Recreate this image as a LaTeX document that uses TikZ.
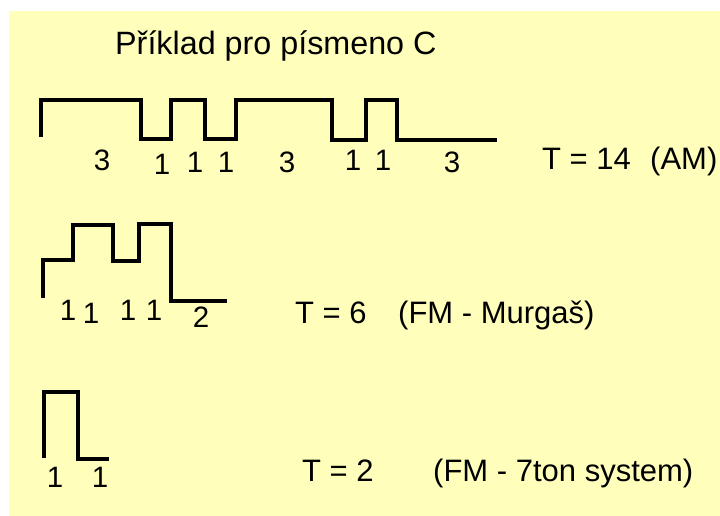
\documentclass[tikz,border=0pt]{standalone}
\usepackage{fontspec}
\setmainfont{Liberation Sans}
\usepackage{xcolor}
\usepackage{tikz}
\usetikzlibrary{positioning,calc}
\definecolor{paleyellow}{RGB}{255,255,187}
\tikzset{
	pulse/.style={draw=black, line width=3.5pt, line join=miter},
	caption/.style={anchor=base west, inner sep=0pt, font=\fontsize{31}{31}\selectfont},
	dur/.style={anchor=base, inner sep=0pt, font=\fontsize{29.5}{29.5}\selectfont}
}

\begin{document}
\begin{tikzpicture}[x=1pt, y=-1pt]
	
	%% -- page and background
	\useasboundingbox (0,0) rectangle (720,516);
	\fill[paleyellow] (9,11) rectangle (720,516);
	
	%% -- title
	\node[caption, font=\fontsize{32.3}{32.3}\selectfont] (title) at (115,55)
	{Příklad pro písmeno C};
	
	%% -- AM signal
	\draw[pulse] (41,137) -- (41,100) -- (141,100) -- (141,139) -- (171,139)
	-- (171,100) -- (205,100) -- (205,139) -- (236,139) -- (236,100)
	-- (332,100) -- (332,140) -- (366,140) -- (366,100) -- (397,100)
	-- (397,140) -- (497,140);
	\foreach \x/\y/\n in {102/170/3, 162/175/1, 195/172/1, 226/172/1,
		287/172/3, 353/170/1, 383/170/1, 452/172/3}
	\node[dur] at (\x,\y) {\n};
	\node[caption] (tam) at (542,169) {T = 14};
	\node[caption] (am) at (650,169) {(AM)};
	
	%% -- FM signal, Murgaš
	\draw[pulse] (43,298) -- (43,260) -- (73,260) -- (73,225) -- (113,225)
	-- (113,261) -- (139,261) -- (139,224) -- (171,224) -- (171,301) -- (227,301);
	\foreach \x/\y/\n in {68/320/1, 91/323/1, 128/320/1, 154/320/1, 201/327/2}
	\node[dur] at (\x,\y) {\n};
	\node[caption] (tmurgas) at (295,323) {T = 6};
	\node[caption] (murgas) at (398,323) {(FM - Murgaš)};
	
	%% -- FM signal, 7ton system
	\draw[pulse] (44,458) -- (44,392) -- (78,392) -- (78,459) -- (109,459);
	\foreach \x/\y/\n in {55/487/1, 100/487/1}
	\node[dur] at (\x,\y) {\n};
	\node[caption] (tseven) at (302,481) {T = 2};
	\node[caption] (seven) at (433,481) {(FM - 7ton system)};
	
\end{tikzpicture}
\end{document}
